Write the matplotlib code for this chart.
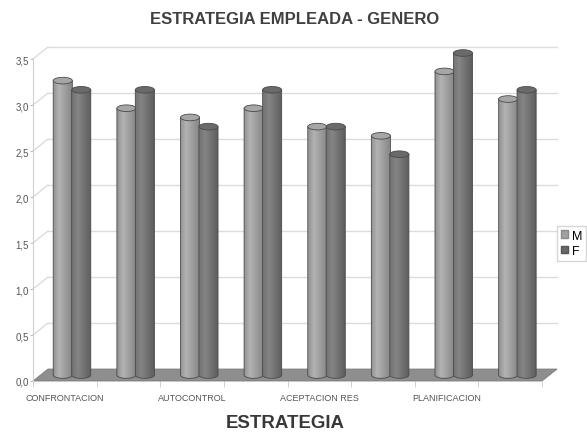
import matplotlib
matplotlib.use("Agg")
import matplotlib.pyplot as plt
import numpy as np
from matplotlib.patches import Ellipse, Patch, Polygon

plt.rcParams["font.family"] = ["Liberation Sans", "DejaVu Sans"]

# Datos: media por estrategia y genero
categories = ["CONFRONTACION", "", "AUTOCONTROL", "", "ACEPTACION RES", "", "PLANIFICACION", ""]
valores_m = [3.2, 2.9, 2.8, 2.9, 2.7, 2.6, 3.3, 3.0]
valores_f = [3.1, 3.1, 2.7, 3.1, 2.7, 2.4, 3.5, 3.1]
y_ticks = [0.0, 0.5, 1.0, 1.5, 2.0, 2.5, 3.0, 3.5]
y_tick_labels = ["0,0", "0,5", "1,0", "1,5", "2,0", "2,5", "3,0", "3,5"]

W, H = 587, 435
fig = plt.figure(figsize=(W / 100, H / 100), dpi=100)
fig.patch.set_facecolor("white")
ax = fig.add_axes([33 / W, 1 - 382 / H, 509 / W, 322 / H])

n = len(categories)
DX, DY = 0.236, 0.13      # desplazamiento de profundidad (efecto 3D)
BAR_W = 0.30
CAP = 0.036


def shade(profile_x, profile_v, n_px=60):
    xs = np.linspace(0, 1, n_px)
    v = np.interp(xs, profile_x, profile_v)
    return np.dstack([v, v, v])


GRAD_M = shade([0, 0.3, 1], [0.57, 0.70, 0.52])
GRAD_F = shade([0, 0.3, 1], [0.45, 0.52, 0.36])


def cylinder(xc, value, base, grad, top_color, z):
    x0, x1 = xc - BAR_W / 2, xc + BAR_W / 2
    top = base + value
    theta = np.linspace(np.pi, 2 * np.pi, 40)
    bottom = np.column_stack([xc + BAR_W / 2 * np.cos(theta), base + CAP * np.sin(theta)])
    verts = [(x0, top)] + [tuple(p) for p in bottom] + [(x1, top)]
    body = Polygon(verts, closed=True, facecolor="none", edgecolor="#4a4a4a",
                   lw=0.6, zorder=z + 0.1, clip_on=False)
    ax.add_patch(body)
    img = ax.imshow(grad, extent=[x0, x1, base - CAP, top], aspect="auto",
                    zorder=z, interpolation="bilinear")
    img.set_clip_path(body)
    img.set_clip_box(fig.bbox)
    ax.add_patch(Ellipse((xc, top), BAR_W, 2 * CAP, facecolor=top_color,
                         edgecolor="#4a4a4a", lw=0.6, zorder=z + 0.2, clip_on=False))


# pared del fondo: lineas de cuadricula y uniones con el eje frontal
for v in y_ticks[1:]:
    ax.plot([DX, n + DX], [v + DY, v + DY], color="#dcdcdc", lw=1.0, zorder=1, clip_on=False)
    ax.plot([0, DX], [v, v + DY], color="#dcdcdc", lw=1.0, zorder=1, clip_on=False)

# suelo
ax.add_patch(Polygon([(0, 0), (n, 0), (n + DX, DY), (DX, DY)], closed=True,
                     facecolor="#8e8e8e", edgecolor="#7a7a7a", lw=0.6, zorder=2,
                     clip_on=False))

for i in range(n):
    centre = i + 0.5 + DX / 2
    cylinder(centre - BAR_W / 2, valores_m[i], DY / 2, GRAD_M, "#a6a6a6", 3 + 2 * i)
    cylinder(centre + BAR_W / 2 - 0.01, valores_f[i], DY / 2, GRAD_F, "#6a6a6a", 4 + 2 * i)

ax.set_xlim(0, n)
ax.set_ylim(0, 3.5)

for side in ["top", "right", "bottom"]:
    ax.spines[side].set_visible(False)
ax.spines["left"].set_color("#d0d0d0")
ax.set_yticks(y_ticks, y_tick_labels)
ax.tick_params(axis="y", length=2, color="#c0c0c0", labelsize=7, labelcolor="#555555", pad=1)

ax.set_xticks(np.arange(n) + 0.5)
ax.set_xticklabels(categories)
ax.set_xticks(np.arange(n + 1), minor=True)
ax.tick_params(axis="x", which="major", length=0, labelsize=6.5, labelcolor="#555555", pad=9)
ax.tick_params(axis="x", which="minor", length=4, color="#c8c8c8")
ax.set_facecolor("none")

fig.text(295 / W, 1 - 20 / H, "ESTRATEGIA EMPLEADA - GENERO", ha="center", va="center",
         fontsize=12, fontweight="bold", color="#404040")
fig.text(285 / W, 1 - 424 / H, "ESTRATEGIA", ha="center", va="center",
         fontsize=13.4, fontweight="bold", color="#383838")

handles = [Patch(facecolor="#a0a0a0", edgecolor="#8a8a8a"),
           Patch(facecolor="#686868", edgecolor="#555555")]
fig.legend(handles, ["M", "F"], loc="upper left", bbox_to_anchor=(557 / W, 1 - 227 / H),
           frameon=True, fancybox=False, edgecolor="#cccccc", fontsize=9,
           handlelength=0.6, handleheight=0.6, handletextpad=0.3, borderpad=0.3,
           labelspacing=0.25, borderaxespad=0)

fig.savefig("out.png", dpi=100, facecolor="white")
